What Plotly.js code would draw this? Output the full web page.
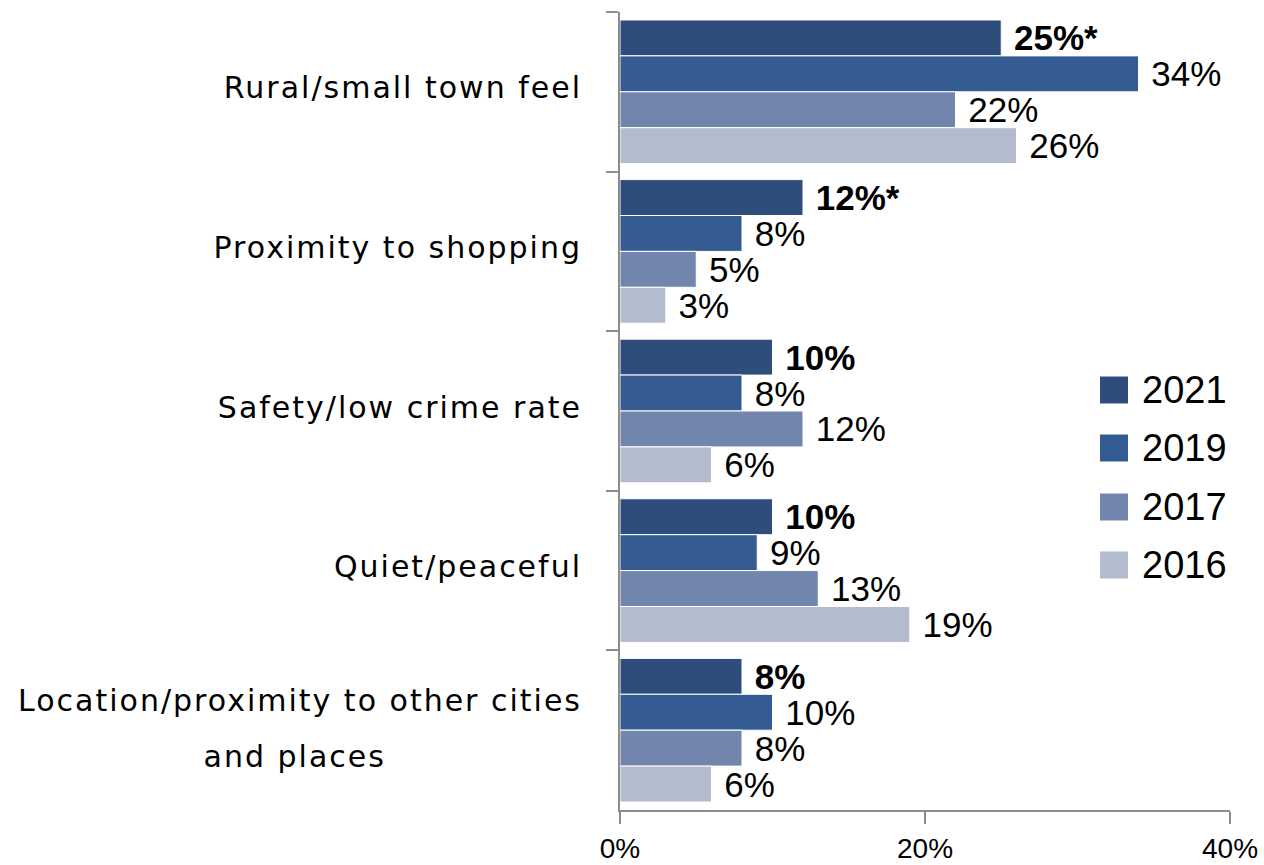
<!DOCTYPE html>
<html>
<head>
<meta charset="utf-8">
<script src="https://cdn.plot.ly/plotly-3.0.1.min.js"></script>
<style>
html, body { margin: 0; padding: 0; background: #fff; }
#chart { width: 1264px; height: 865px; }
.ytick text { letter-spacing: 2px; }
</style>
</head>
<body>
<div id="chart"></div>
<script>
// ---- data ----
const categories = [
  "Rural/small town feel",
  "Proximity to shopping",
  "Safety/low crime rate",
  "Quiet/peaceful",
  "Location/proximity to other cities<br>and places\u00a0\u00a0\u00a0\u00a0\u00a0\u00a0\u00a0\u00a0\u00a0\u00a0\u00a0\u00a0\u00a0\u00a0\u00a0\u00a0\u00a0"
];
const seriesNames = ["2021", "2019", "2017", "2016"];
const values2021 = [25, 12, 10, 10, 8];
const values2019 = [34, 8, 8, 9, 10];
const values2017 = [22, 5, 12, 13, 8];
const values2016 = [26, 3, 6, 19, 6];
const significance2021 = ["*", "*", "", "", ""];
const xTickValues = [0, 20, 40];

// ---- styles ----
const colors = ["#2e4d7b", "#345c92", "#7285ad", "#b3bbcf"];
const allValues = [values2021, values2019, values2017, values2016];

const traces = allValues.map((vals, k) => ({
  type: "bar",
  orientation: "h",
  name: seriesNames[k],
  y: categories,
  x: vals,
  text: vals.map((v, i) => "\u00a0" + v + "%" + (k === 0 ? significance2021[i] : "")),
  textposition: "outside",
  texttemplate: "%{text}",
  constraintext: "none",
  cliponaxis: false,
  hoverinfo: "skip",
  textfont: {
    family: "Liberation Sans, Arial, sans-serif",
    size: 35,
    color: "#000",
    weight: k === 0 ? "bold" : "normal"
  },
  marker: { color: colors[k], line: { color: "#ffffff", width: 1 } },
  showlegend: false
}));

// custom legend (large swatches like the reference)
const plotL = 620, plotR = 1230, plotT = 12, plotB = 810;
const pw = plotR - plotL, ph = plotB - plotT;
const px = x => (x - plotL) / pw;
const py = y => (plotB - y) / ph;
const legendCenters = [390, 448, 507, 565];
const shapes = [];
const annotations = [];
seriesNames.forEach((name, k) => {
  const cy = legendCenters[k];
  shapes.push({
    type: "rect", xref: "paper", yref: "paper",
    x0: px(1100), x1: px(1128), y0: py(cy + 13.5), y1: py(cy - 13.5),
    fillcolor: colors[k], line: { width: 0 }
  });
  annotations.push({
    xref: "paper", yref: "paper", x: px(1140), y: py(cy),
    xanchor: "left", yanchor: "middle", showarrow: false,
    text: name,
    font: { family: "Liberation Sans, Arial, sans-serif", size: 38, color: "#000" }
  });
});

const layout = {
  width: 1264,
  height: 865,
  margin: { l: plotL, r: 1264 - plotR, t: plotT, b: 865 - plotB, pad: 0 },
  paper_bgcolor: "#ffffff",
  plot_bgcolor: "#ffffff",
  barmode: "group",
  bargap: 0.1,
  bargroupgap: 0,
  showlegend: false,
  xaxis: {
    range: [0, 40],
    tickvals: xTickValues,
    ticktext: xTickValues.map(v => v + "%"),
    showgrid: false,
    zeroline: false,
    showline: true,
    linecolor: "#8c8c8c",
    linewidth: 2,
    ticks: "outside",
    ticklen: 12,
    tickwidth: 2,
    tickcolor: "#8c8c8c",
    ticklabelstandoff: 0,
    tickfont: { family: "Liberation Sans, Arial, sans-serif", size: 28, color: "#000" },
    fixedrange: true
  },
  yaxis: {
    autorange: "reversed",
    type: "category",
    showgrid: false,
    zeroline: false,
    showline: true,
    linecolor: "#8c8c8c",
    linewidth: 2,
    ticks: "outside",
    tickson: "boundaries",
    ticklen: 12,
    tickwidth: 2,
    tickcolor: "#8c8c8c",
    ticklabelstandoff: 30,
    tickfont: { family: "DejaVu Sans, sans-serif", size: 30, color: "#000" },
    fixedrange: true
  },
  shapes: shapes,
  annotations: annotations,
  font: { family: "Liberation Sans, Arial, sans-serif" }
};

Plotly.newPlot("chart", traces, layout, { displayModeBar: false, staticPlot: true }).then(gd => {
  // nudge category labels up slightly and widen the line spacing of the two-line label
  gd.querySelectorAll(".ytick text").forEach(t => {
    const lines = t.querySelectorAll("tspan.line");
    if (lines.length > 1) {
      lines[1].setAttribute("dy", "1.85em");
      lines.forEach(l => {
        const ly = parseFloat(l.getAttribute("y") || "0");
        l.setAttribute("y", ly - 10);
      });
    } else {
      const y = parseFloat(t.getAttribute("y") || "0");
      t.setAttribute("y", y - 4);
    }
  });
});
</script>
</body>
</html>
